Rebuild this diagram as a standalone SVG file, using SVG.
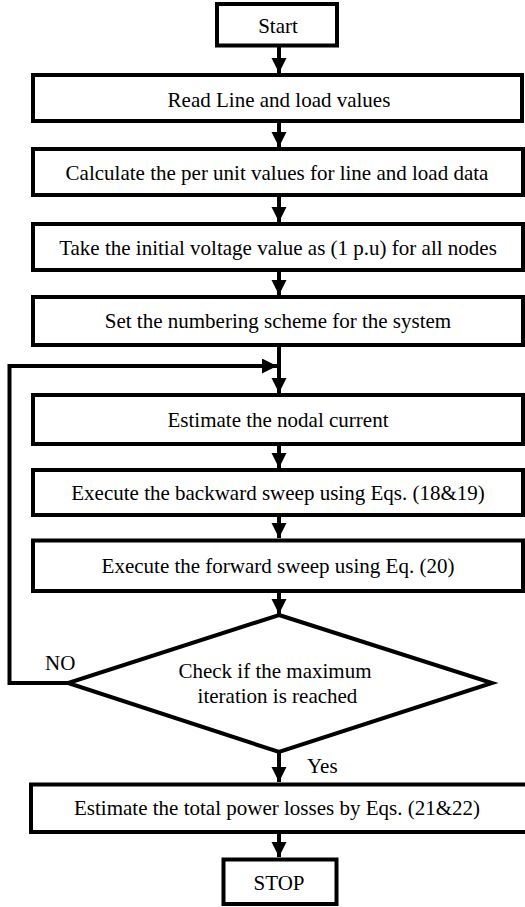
<svg xmlns="http://www.w3.org/2000/svg" width="525" height="907" viewBox="0 0 525 907">
<defs>
<style>
.box{fill:#fff;stroke:#000;stroke-width:4}
.t{font-size:21px;fill:#000;text-anchor:middle}
.lbl{font-size:21px;fill:#000}
.c{fill:none;stroke:#000;stroke-width:4}
</style>
<marker id="ah" markerUnits="userSpaceOnUse" markerWidth="16" markerHeight="16" refX="15" refY="7.5" orient="auto">
<path d="M0,0 L15,7.5 L0,15 z" fill="#000"/>
</marker>
</defs>
<rect width="525" height="907" fill="#fff"/>
<g font-family="'Liberation Serif', 'Times New Roman', 'DejaVu Serif', serif">
<g id="connectors">
<line class="c" x1="279" y1="47" x2="279" y2="73" marker-end="url(#ah)"/>
<line class="c" x1="279" y1="123" x2="279" y2="147" marker-end="url(#ah)"/>
<line class="c" x1="279" y1="197" x2="279" y2="222" marker-end="url(#ah)"/>
<line class="c" x1="279" y1="272" x2="279" y2="295" marker-end="url(#ah)"/>
<line class="c" x1="279" y1="347" x2="279" y2="393" marker-end="url(#ah)"/>
<line class="c" x1="279" y1="446" x2="279" y2="468" marker-end="url(#ah)"/>
<line class="c" x1="279" y1="517" x2="279" y2="538" marker-end="url(#ah)"/>
<line class="c" x1="279" y1="593" x2="279" y2="614" marker-end="url(#ah)"/>
<line class="c" x1="279" y1="752" x2="279" y2="782" marker-end="url(#ah)"/>
<line class="c" x1="279" y1="834" x2="279" y2="857" marker-end="url(#ah)"/>
<polyline class="c" points="68,683 9.5,683 9.5,366 277,366" marker-end="url(#ah)"/>
<text class="lbl" x="45" y="670">NO</text>
<text class="lbl" x="307" y="773">Yes</text>
</g>
<g id="start"><rect class="box" x="217" y="4" width="120" height="41.5"/><text class="t" x="278" y="33">Start</text></g>
<g id="read"><rect class="box" x="33" y="75" width="489" height="46"/><text class="t" x="279" y="106.5">Read Line and load values</text></g>
<g id="calc"><rect class="box" x="33" y="149" width="490" height="46"/><text class="t" x="277" y="180">Calculate the per unit values for line and load data</text></g>
<g id="init"><rect class="box" x="33" y="224" width="490" height="46"/><text class="t" x="278" y="255">Take the initial voltage value as (1 p.u) for all nodes</text></g>
<g id="numbering"><rect class="box" x="33" y="297" width="490" height="48"/><text class="t" x="278" y="328">Set the numbering scheme for the system</text></g>
<g id="nodal"><rect class="box" x="33" y="395" width="490" height="49"/><text class="t" x="278" y="427">Estimate the nodal current</text></g>
<g id="backward"><rect class="box" x="33" y="470" width="490" height="45"/><text class="t" x="278" y="500">Execute the backward sweep using Eqs. (18&amp;19)</text></g>
<g id="forward"><rect class="box" x="33" y="540.5" width="490" height="50.5"/><text class="t" x="278" y="573">Execute the forward sweep using Eq. (20)</text></g>
<g id="check"><polygon class="box" points="279,615 492,683 279,752 68,683"/><text class="t" x="275" y="678">Check if the maximum</text><text class="t" x="277.5" y="703">iteration is reached</text></g>
<g id="losses"><rect class="box" x="31" y="784.5" width="510" height="47.5"/><text class="t" x="277" y="815">Estimate the total power losses by Eqs. (21&amp;22)</text></g>
<g id="stop"><rect class="box" x="223.5" y="859.5" width="113" height="44.5"/><text class="t" x="279" y="890">STOP</text></g>
</g>
</svg>
